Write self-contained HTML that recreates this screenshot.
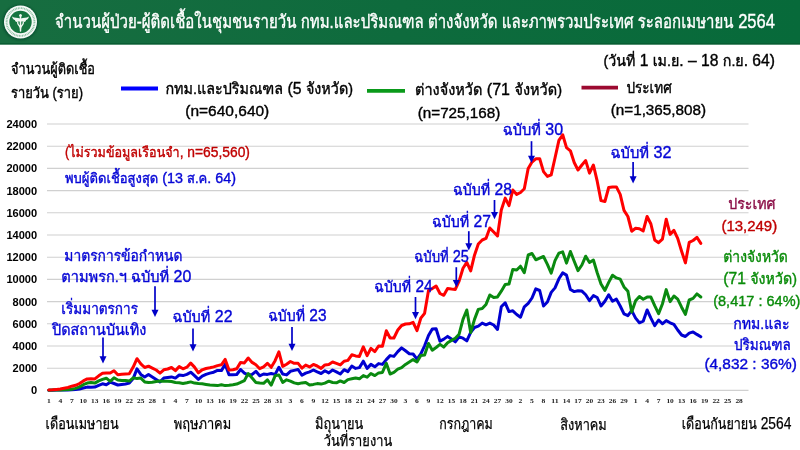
<!DOCTYPE html>
<html lang="th"><head><meta charset="utf-8"><title>จำนวนผู้ป่วย-ผู้ติดเชื้อในชุมชนรายวัน</title>
<style>html,body{margin:0;padding:0;background:#fff;}body{width:800px;height:450px;overflow:hidden;}svg{display:block;}</style>
</head><body>
<svg width="800" height="450" viewBox="0 0 800 450" font-family='"Liberation Sans", "Loma", "Noto Sans Thai Looped", "Noto Sans Thai", sans-serif'>
<rect x="0" y="0" width="800" height="450" fill="#ffffff"/>
<defs><linearGradient id="hg" x1="0" y1="0" x2="1" y2="0"><stop offset="0" stop-color="#176d40"/><stop offset="0.5" stop-color="#0e6b3d"/><stop offset="1" stop-color="#076a3a"/></linearGradient></defs>
<rect x="0" y="0" width="800" height="44.4" fill="url(#hg)"/>
<rect x="0" y="43.2" width="800" height="1.3" fill="#085a31"/>
<defs><filter id="sh" x="-30%" y="-30%" width="160%" height="160%"><feGaussianBlur stdDeviation="0.9"/></filter></defs>
<g id="logo">
<circle cx="20.3" cy="22.5" r="17.6" fill="#06452a" opacity="0.7" filter="url(#sh)"/>
<circle cx="20.5" cy="22" r="16.5" fill="#f6faf7"/>
<circle cx="20.5" cy="22" r="13.9" fill="none" stroke="#86bb9d" stroke-width="1.9" stroke-dasharray="0.9 0.7"/>
<circle cx="20.5" cy="22" r="12.0" fill="#f6faf7"/>
<circle cx="20.5" cy="22" r="11.2" fill="#14753f"/>
<path d="M20.5 15 L20.5 31" stroke="#f1f8f3" stroke-width="1.5" stroke-linecap="round" fill="none"/>
<path d="M20.1 18.4 C17.6 17.2 14.6 18.2 12 16.4 C12.6 18.6 13.6 19.6 15 20 C14.8 20.8 15.6 21.8 17 22 C17.8 21.4 19 21.4 20.1 21.6 Z" fill="#f1f8f3"/>
<path d="M20.9 18.4 C23.4 17.2 26.4 18.2 29 16.4 C28.4 18.6 27.4 19.6 26 20 C26.2 20.8 25.4 21.8 24 22 C23.2 21.4 22 21.4 20.9 21.6 Z" fill="#f1f8f3"/>
<path d="M18 21.6 C16.6 23.6 19 25.4 20.5 27.2 C22 25.4 24.4 23.6 23 21.6" stroke="#f1f8f3" stroke-width="1.3" fill="none"/>
<path d="M19.2 25.6 L20.5 31.4 L21.8 25.6 Z" fill="#f1f8f3"/>
<circle cx="20.5" cy="15.6" r="1.35" fill="#f1f8f3"/>
</g>
<text x="55" y="27.9" font-size="18.6" fill="#ffffff" stroke="#ffffff" stroke-width="0.38" textLength="720" lengthAdjust="spacingAndGlyphs">จำนวนผู้ป่วย-ผู้ติดเชื้อในชุมชนรายวัน กทม.และปริมณฑล ต่างจังหวัด และภาพรวมประเทศ ระลอกเมษายน<tspan font-size="20.5"> 2564</tspan></text>
<text x="603.5" y="66" font-size="15" fill="#000" stroke="#000" stroke-width="0.38" textLength="171.5" lengthAdjust="spacingAndGlyphs">(วันที่<tspan font-size="16.5"> 1 </tspan>เม.ย<tspan font-size="16.5">. – 18 </tspan>ก.ย<tspan font-size="16.5">. 64)</tspan></text>
<text x="11" y="74" font-size="14.5" fill="#000" stroke="#000" stroke-width="0.38" textLength="84" lengthAdjust="spacingAndGlyphs">จำนวนผู้ติดเชื้อ</text>
<text x="11" y="98" font-size="14.5" fill="#000" stroke="#000" stroke-width="0.38" textLength="72" lengthAdjust="spacingAndGlyphs">รายวัน (ราย)</text>
<line x1="47" x2="748.5" y1="390.4" y2="390.4" stroke="#d0d0d0" stroke-width="1.1"/>
<text x="31" y="394.3" font-size="10.8" fill="#000" font-weight="bold" textLength="6.2" lengthAdjust="spacingAndGlyphs">0</text>
<line x1="47" x2="748.5" y1="368.2" y2="368.2" stroke="#d0d0d0" stroke-width="1.1"/>
<text x="12.6" y="372.1" font-size="10.8" fill="#000" font-weight="bold" textLength="24.6" lengthAdjust="spacingAndGlyphs">2000</text>
<line x1="47" x2="748.5" y1="346.0" y2="346.0" stroke="#d0d0d0" stroke-width="1.1"/>
<text x="12.6" y="349.9" font-size="10.8" fill="#000" font-weight="bold" textLength="24.6" lengthAdjust="spacingAndGlyphs">4000</text>
<line x1="47" x2="748.5" y1="323.8" y2="323.8" stroke="#d0d0d0" stroke-width="1.1"/>
<text x="12.6" y="327.7" font-size="10.8" fill="#000" font-weight="bold" textLength="24.6" lengthAdjust="spacingAndGlyphs">6000</text>
<line x1="47" x2="748.5" y1="301.6" y2="301.6" stroke="#d0d0d0" stroke-width="1.1"/>
<text x="12.6" y="305.5" font-size="10.8" fill="#000" font-weight="bold" textLength="24.6" lengthAdjust="spacingAndGlyphs">8000</text>
<line x1="47" x2="748.5" y1="279.4" y2="279.4" stroke="#d0d0d0" stroke-width="1.1"/>
<text x="6.4" y="283.3" font-size="10.8" fill="#000" font-weight="bold" textLength="30.8" lengthAdjust="spacingAndGlyphs">10000</text>
<line x1="47" x2="748.5" y1="257.2" y2="257.2" stroke="#d0d0d0" stroke-width="1.1"/>
<text x="6.4" y="261.1" font-size="10.8" fill="#000" font-weight="bold" textLength="30.8" lengthAdjust="spacingAndGlyphs">12000</text>
<line x1="47" x2="748.5" y1="235.0" y2="235.0" stroke="#d0d0d0" stroke-width="1.1"/>
<text x="6.4" y="238.9" font-size="10.8" fill="#000" font-weight="bold" textLength="30.8" lengthAdjust="spacingAndGlyphs">14000</text>
<line x1="47" x2="748.5" y1="212.8" y2="212.8" stroke="#d0d0d0" stroke-width="1.1"/>
<text x="6.4" y="216.7" font-size="10.8" fill="#000" font-weight="bold" textLength="30.8" lengthAdjust="spacingAndGlyphs">16000</text>
<line x1="47" x2="748.5" y1="190.6" y2="190.6" stroke="#d0d0d0" stroke-width="1.1"/>
<text x="6.4" y="194.5" font-size="10.8" fill="#000" font-weight="bold" textLength="30.8" lengthAdjust="spacingAndGlyphs">18000</text>
<line x1="47" x2="748.5" y1="168.4" y2="168.4" stroke="#d0d0d0" stroke-width="1.1"/>
<text x="6.4" y="172.3" font-size="10.8" fill="#000" font-weight="bold" textLength="30.8" lengthAdjust="spacingAndGlyphs">20000</text>
<line x1="47" x2="748.5" y1="146.2" y2="146.2" stroke="#d0d0d0" stroke-width="1.1"/>
<text x="6.4" y="150.1" font-size="10.8" fill="#000" font-weight="bold" textLength="30.8" lengthAdjust="spacingAndGlyphs">22000</text>
<line x1="47" x2="748.5" y1="124.0" y2="124.0" stroke="#d0d0d0" stroke-width="1.1"/>
<text x="6.4" y="127.9" font-size="10.8" fill="#000" font-weight="bold" textLength="30.8" lengthAdjust="spacingAndGlyphs">24000</text>
<text x="46.9" y="403.2" font-size="6.8" fill="#222" font-weight="bold" font-family='"Liberation Serif", "DejaVu Serif", serif' textLength="3.8" lengthAdjust="spacingAndGlyphs">1</text>
<text x="58.4" y="403.2" font-size="6.8" fill="#222" font-weight="bold" font-family='"Liberation Serif", "DejaVu Serif", serif' textLength="3.8" lengthAdjust="spacingAndGlyphs">4</text>
<text x="69.9" y="403.2" font-size="6.8" fill="#222" font-weight="bold" font-family='"Liberation Serif", "DejaVu Serif", serif' textLength="3.8" lengthAdjust="spacingAndGlyphs">7</text>
<text x="79.6" y="403.2" font-size="6.8" fill="#222" font-weight="bold" font-family='"Liberation Serif", "DejaVu Serif", serif' textLength="7.4" lengthAdjust="spacingAndGlyphs">10</text>
<text x="91.1" y="403.2" font-size="6.8" fill="#222" font-weight="bold" font-family='"Liberation Serif", "DejaVu Serif", serif' textLength="7.4" lengthAdjust="spacingAndGlyphs">13</text>
<text x="102.6" y="403.2" font-size="6.8" fill="#222" font-weight="bold" font-family='"Liberation Serif", "DejaVu Serif", serif' textLength="7.4" lengthAdjust="spacingAndGlyphs">16</text>
<text x="114.1" y="403.2" font-size="6.8" fill="#222" font-weight="bold" font-family='"Liberation Serif", "DejaVu Serif", serif' textLength="7.4" lengthAdjust="spacingAndGlyphs">19</text>
<text x="125.6" y="403.2" font-size="6.8" fill="#222" font-weight="bold" font-family='"Liberation Serif", "DejaVu Serif", serif' textLength="7.4" lengthAdjust="spacingAndGlyphs">22</text>
<text x="137.1" y="403.2" font-size="6.8" fill="#222" font-weight="bold" font-family='"Liberation Serif", "DejaVu Serif", serif' textLength="7.4" lengthAdjust="spacingAndGlyphs">25</text>
<text x="148.6" y="403.2" font-size="6.8" fill="#222" font-weight="bold" font-family='"Liberation Serif", "DejaVu Serif", serif' textLength="7.4" lengthAdjust="spacingAndGlyphs">28</text>
<text x="161.9" y="403.2" font-size="6.8" fill="#222" font-weight="bold" font-family='"Liberation Serif", "DejaVu Serif", serif' textLength="3.8" lengthAdjust="spacingAndGlyphs">1</text>
<text x="173.5" y="403.2" font-size="6.8" fill="#222" font-weight="bold" font-family='"Liberation Serif", "DejaVu Serif", serif' textLength="3.8" lengthAdjust="spacingAndGlyphs">4</text>
<text x="185.0" y="403.2" font-size="6.8" fill="#222" font-weight="bold" font-family='"Liberation Serif", "DejaVu Serif", serif' textLength="3.8" lengthAdjust="spacingAndGlyphs">7</text>
<text x="194.7" y="403.2" font-size="6.8" fill="#222" font-weight="bold" font-family='"Liberation Serif", "DejaVu Serif", serif' textLength="7.4" lengthAdjust="spacingAndGlyphs">10</text>
<text x="206.2" y="403.2" font-size="6.8" fill="#222" font-weight="bold" font-family='"Liberation Serif", "DejaVu Serif", serif' textLength="7.4" lengthAdjust="spacingAndGlyphs">13</text>
<text x="217.7" y="403.2" font-size="6.8" fill="#222" font-weight="bold" font-family='"Liberation Serif", "DejaVu Serif", serif' textLength="7.4" lengthAdjust="spacingAndGlyphs">16</text>
<text x="229.2" y="403.2" font-size="6.8" fill="#222" font-weight="bold" font-family='"Liberation Serif", "DejaVu Serif", serif' textLength="7.4" lengthAdjust="spacingAndGlyphs">19</text>
<text x="240.7" y="403.2" font-size="6.8" fill="#222" font-weight="bold" font-family='"Liberation Serif", "DejaVu Serif", serif' textLength="7.4" lengthAdjust="spacingAndGlyphs">22</text>
<text x="252.2" y="403.2" font-size="6.8" fill="#222" font-weight="bold" font-family='"Liberation Serif", "DejaVu Serif", serif' textLength="7.4" lengthAdjust="spacingAndGlyphs">25</text>
<text x="263.7" y="403.2" font-size="6.8" fill="#222" font-weight="bold" font-family='"Liberation Serif", "DejaVu Serif", serif' textLength="7.4" lengthAdjust="spacingAndGlyphs">28</text>
<text x="275.2" y="403.2" font-size="6.8" fill="#222" font-weight="bold" font-family='"Liberation Serif", "DejaVu Serif", serif' textLength="7.4" lengthAdjust="spacingAndGlyphs">31</text>
<text x="288.5" y="403.2" font-size="6.8" fill="#222" font-weight="bold" font-family='"Liberation Serif", "DejaVu Serif", serif' textLength="3.8" lengthAdjust="spacingAndGlyphs">3</text>
<text x="300.0" y="403.2" font-size="6.8" fill="#222" font-weight="bold" font-family='"Liberation Serif", "DejaVu Serif", serif' textLength="3.8" lengthAdjust="spacingAndGlyphs">6</text>
<text x="311.5" y="403.2" font-size="6.8" fill="#222" font-weight="bold" font-family='"Liberation Serif", "DejaVu Serif", serif' textLength="3.8" lengthAdjust="spacingAndGlyphs">9</text>
<text x="321.2" y="403.2" font-size="6.8" fill="#222" font-weight="bold" font-family='"Liberation Serif", "DejaVu Serif", serif' textLength="7.4" lengthAdjust="spacingAndGlyphs">12</text>
<text x="332.7" y="403.2" font-size="6.8" fill="#222" font-weight="bold" font-family='"Liberation Serif", "DejaVu Serif", serif' textLength="7.4" lengthAdjust="spacingAndGlyphs">15</text>
<text x="344.2" y="403.2" font-size="6.8" fill="#222" font-weight="bold" font-family='"Liberation Serif", "DejaVu Serif", serif' textLength="7.4" lengthAdjust="spacingAndGlyphs">18</text>
<text x="355.7" y="403.2" font-size="6.8" fill="#222" font-weight="bold" font-family='"Liberation Serif", "DejaVu Serif", serif' textLength="7.4" lengthAdjust="spacingAndGlyphs">21</text>
<text x="367.2" y="403.2" font-size="6.8" fill="#222" font-weight="bold" font-family='"Liberation Serif", "DejaVu Serif", serif' textLength="7.4" lengthAdjust="spacingAndGlyphs">24</text>
<text x="378.7" y="403.2" font-size="6.8" fill="#222" font-weight="bold" font-family='"Liberation Serif", "DejaVu Serif", serif' textLength="7.4" lengthAdjust="spacingAndGlyphs">27</text>
<text x="390.2" y="403.2" font-size="6.8" fill="#222" font-weight="bold" font-family='"Liberation Serif", "DejaVu Serif", serif' textLength="7.4" lengthAdjust="spacingAndGlyphs">30</text>
<text x="403.6" y="403.2" font-size="6.8" fill="#222" font-weight="bold" font-family='"Liberation Serif", "DejaVu Serif", serif' textLength="3.8" lengthAdjust="spacingAndGlyphs">3</text>
<text x="415.1" y="403.2" font-size="6.8" fill="#222" font-weight="bold" font-family='"Liberation Serif", "DejaVu Serif", serif' textLength="3.8" lengthAdjust="spacingAndGlyphs">6</text>
<text x="426.6" y="403.2" font-size="6.8" fill="#222" font-weight="bold" font-family='"Liberation Serif", "DejaVu Serif", serif' textLength="3.8" lengthAdjust="spacingAndGlyphs">9</text>
<text x="436.3" y="403.2" font-size="6.8" fill="#222" font-weight="bold" font-family='"Liberation Serif", "DejaVu Serif", serif' textLength="7.4" lengthAdjust="spacingAndGlyphs">12</text>
<text x="447.8" y="403.2" font-size="6.8" fill="#222" font-weight="bold" font-family='"Liberation Serif", "DejaVu Serif", serif' textLength="7.4" lengthAdjust="spacingAndGlyphs">15</text>
<text x="459.3" y="403.2" font-size="6.8" fill="#222" font-weight="bold" font-family='"Liberation Serif", "DejaVu Serif", serif' textLength="7.4" lengthAdjust="spacingAndGlyphs">18</text>
<text x="470.8" y="403.2" font-size="6.8" fill="#222" font-weight="bold" font-family='"Liberation Serif", "DejaVu Serif", serif' textLength="7.4" lengthAdjust="spacingAndGlyphs">21</text>
<text x="482.3" y="403.2" font-size="6.8" fill="#222" font-weight="bold" font-family='"Liberation Serif", "DejaVu Serif", serif' textLength="7.4" lengthAdjust="spacingAndGlyphs">24</text>
<text x="493.8" y="403.2" font-size="6.8" fill="#222" font-weight="bold" font-family='"Liberation Serif", "DejaVu Serif", serif' textLength="7.4" lengthAdjust="spacingAndGlyphs">27</text>
<text x="505.3" y="403.2" font-size="6.8" fill="#222" font-weight="bold" font-family='"Liberation Serif", "DejaVu Serif", serif' textLength="7.4" lengthAdjust="spacingAndGlyphs">30</text>
<text x="518.6" y="403.2" font-size="6.8" fill="#222" font-weight="bold" font-family='"Liberation Serif", "DejaVu Serif", serif' textLength="3.8" lengthAdjust="spacingAndGlyphs">2</text>
<text x="530.1" y="403.2" font-size="6.8" fill="#222" font-weight="bold" font-family='"Liberation Serif", "DejaVu Serif", serif' textLength="3.8" lengthAdjust="spacingAndGlyphs">5</text>
<text x="541.6" y="403.2" font-size="6.8" fill="#222" font-weight="bold" font-family='"Liberation Serif", "DejaVu Serif", serif' textLength="3.8" lengthAdjust="spacingAndGlyphs">8</text>
<text x="551.3" y="403.2" font-size="6.8" fill="#222" font-weight="bold" font-family='"Liberation Serif", "DejaVu Serif", serif' textLength="7.4" lengthAdjust="spacingAndGlyphs">11</text>
<text x="562.8" y="403.2" font-size="6.8" fill="#222" font-weight="bold" font-family='"Liberation Serif", "DejaVu Serif", serif' textLength="7.4" lengthAdjust="spacingAndGlyphs">14</text>
<text x="574.3" y="403.2" font-size="6.8" fill="#222" font-weight="bold" font-family='"Liberation Serif", "DejaVu Serif", serif' textLength="7.4" lengthAdjust="spacingAndGlyphs">17</text>
<text x="585.8" y="403.2" font-size="6.8" fill="#222" font-weight="bold" font-family='"Liberation Serif", "DejaVu Serif", serif' textLength="7.4" lengthAdjust="spacingAndGlyphs">20</text>
<text x="597.3" y="403.2" font-size="6.8" fill="#222" font-weight="bold" font-family='"Liberation Serif", "DejaVu Serif", serif' textLength="7.4" lengthAdjust="spacingAndGlyphs">23</text>
<text x="608.8" y="403.2" font-size="6.8" fill="#222" font-weight="bold" font-family='"Liberation Serif", "DejaVu Serif", serif' textLength="7.4" lengthAdjust="spacingAndGlyphs">26</text>
<text x="620.3" y="403.2" font-size="6.8" fill="#222" font-weight="bold" font-family='"Liberation Serif", "DejaVu Serif", serif' textLength="7.4" lengthAdjust="spacingAndGlyphs">29</text>
<text x="633.7" y="403.2" font-size="6.8" fill="#222" font-weight="bold" font-family='"Liberation Serif", "DejaVu Serif", serif' textLength="3.8" lengthAdjust="spacingAndGlyphs">1</text>
<text x="645.2" y="403.2" font-size="6.8" fill="#222" font-weight="bold" font-family='"Liberation Serif", "DejaVu Serif", serif' textLength="3.8" lengthAdjust="spacingAndGlyphs">4</text>
<text x="656.7" y="403.2" font-size="6.8" fill="#222" font-weight="bold" font-family='"Liberation Serif", "DejaVu Serif", serif' textLength="3.8" lengthAdjust="spacingAndGlyphs">7</text>
<text x="666.4" y="403.2" font-size="6.8" fill="#222" font-weight="bold" font-family='"Liberation Serif", "DejaVu Serif", serif' textLength="7.4" lengthAdjust="spacingAndGlyphs">10</text>
<text x="677.9" y="403.2" font-size="6.8" fill="#222" font-weight="bold" font-family='"Liberation Serif", "DejaVu Serif", serif' textLength="7.4" lengthAdjust="spacingAndGlyphs">13</text>
<text x="689.4" y="403.2" font-size="6.8" fill="#222" font-weight="bold" font-family='"Liberation Serif", "DejaVu Serif", serif' textLength="7.4" lengthAdjust="spacingAndGlyphs">16</text>
<text x="700.9" y="403.2" font-size="6.8" fill="#222" font-weight="bold" font-family='"Liberation Serif", "DejaVu Serif", serif' textLength="7.4" lengthAdjust="spacingAndGlyphs">19</text>
<text x="712.4" y="403.2" font-size="6.8" fill="#222" font-weight="bold" font-family='"Liberation Serif", "DejaVu Serif", serif' textLength="7.4" lengthAdjust="spacingAndGlyphs">22</text>
<text x="723.9" y="403.2" font-size="6.8" fill="#222" font-weight="bold" font-family='"Liberation Serif", "DejaVu Serif", serif' textLength="7.4" lengthAdjust="spacingAndGlyphs">25</text>
<text x="735.4" y="403.2" font-size="6.8" fill="#222" font-weight="bold" font-family='"Liberation Serif", "DejaVu Serif", serif' textLength="7.4" lengthAdjust="spacingAndGlyphs">28</text>
<line x1="121" x2="158" y1="88.5" y2="88.5" stroke="#0000ff" stroke-width="3.8"/>
<text x="165.4" y="93.5" font-size="15.5" fill="#000" stroke="#000" stroke-width="0.38" textLength="187.6" lengthAdjust="spacingAndGlyphs">กทม.และปริมณฑล<tspan font-size="17.1"> (5 </tspan>จังหวัด)</text>
<text x="185.3" y="116.2" font-size="15.3" fill="#000" stroke="#000" stroke-width="0.38" textLength="84" lengthAdjust="spacingAndGlyphs">(n=640,640)</text>
<line x1="367" x2="405" y1="90.8" y2="90.8" stroke="#0a9a1a" stroke-width="3.8"/>
<text x="415" y="94.7" font-size="15.5" fill="#000" stroke="#000" stroke-width="0.38" textLength="147" lengthAdjust="spacingAndGlyphs">ต่างจังหวัด<tspan font-size="17.1"> (71 </tspan>จังหวัด)</text>
<text x="417.7" y="118.2" font-size="15.3" fill="#000" stroke="#000" stroke-width="0.38" textLength="82.6" lengthAdjust="spacingAndGlyphs">(n=725,168)</text>
<line x1="581.5" x2="618" y1="87.7" y2="87.7" stroke="#9c0a30" stroke-width="3.8"/>
<text x="626.4" y="93.3" font-size="15.5" fill="#000" stroke="#000" stroke-width="0.38" textLength="45.4" lengthAdjust="spacingAndGlyphs">ประเทศ</text>
<text x="610.7" y="115.3" font-size="15.3" fill="#000" stroke="#000" stroke-width="0.38" textLength="95.4" lengthAdjust="spacingAndGlyphs">(n=1,365,808)</text>
<polyline points="48.8,390.2 52.6,390.2 56.5,390.1 60.3,390.1 64.1,390.0 68.0,389.9 71.8,389.8 75.6,389.5 79.5,389.0 83.3,388.0 87.2,387.1 91.0,387.3 94.8,387.1 98.7,385.3 102.5,383.8 106.3,384.7 110.2,382.2 114.0,383.5 117.8,385.0 121.7,384.4 125.5,384.0 129.3,383.1 133.2,378.6 137.0,368.9 140.8,374.4 144.7,376.9 148.5,374.4 152.3,376.9 156.2,379.4 160.0,381.9 163.8,378.1 167.7,377.5 171.5,376.9 175.4,378.1 179.2,375.0 183.0,375.6 186.9,374.4 190.7,372.2 194.5,375.6 198.4,379.4 202.2,376.2 206.0,374.4 209.9,373.1 213.7,372.2 217.5,370.4 221.4,370.6 225.2,364.4 229.0,374.8 232.9,374.8 236.7,374.5 240.6,369.5 244.4,373.1 248.2,374.9 252.1,374.4 255.9,371.3 259.7,375.8 263.6,374.0 267.4,374.4 271.2,373.5 275.1,374.4 278.9,367.3 282.7,374.0 286.6,374.9 290.4,371.3 294.2,370.4 298.1,369.5 301.9,375.3 305.7,373.1 309.6,371.8 313.4,370.0 317.2,371.9 321.1,373.5 324.9,370.8 328.8,372.9 332.6,370.0 336.4,371.9 340.3,374.0 344.1,369.7 347.9,371.6 351.8,366.0 355.6,368.4 359.4,367.6 363.3,361.2 367.1,368.4 370.9,364.4 374.8,366.8 378.6,363.6 382.4,364.4 386.3,359.6 390.1,355.6 393.9,356.4 397.8,351.6 401.6,347.9 405.5,350.8 409.3,353.7 413.1,354.0 417.0,359.1 420.8,353.8 424.6,345.8 428.5,335.5 432.3,328.9 436.1,328.7 440.0,341.3 443.8,339.1 447.6,336.4 451.5,339.1 455.3,341.8 459.1,336.9 463.0,338.2 466.8,340.9 470.7,332.4 474.5,327.5 478.3,326.2 482.2,323.1 486.0,324.8 489.8,323.1 493.7,325.0 497.5,329.4 501.3,306.8 505.2,302.8 509.0,311.6 512.8,310.8 516.7,314.5 520.5,317.2 524.3,306.8 528.2,303.3 532.0,298.0 535.8,288.9 539.7,290.5 543.5,306.0 547.4,302.0 551.2,292.4 555.0,287.9 558.9,278.8 562.7,272.9 566.5,275.1 570.4,289.5 574.2,291.6 578.0,290.8 581.9,291.1 585.7,294.8 589.5,300.7 593.4,295.6 597.2,297.5 601.0,306.0 604.9,301.2 608.7,294.8 612.5,301.2 616.4,299.1 620.2,306.0 624.0,313.8 627.9,315.6 631.7,310.6 635.6,318.1 639.4,322.8 643.2,321.2 647.1,310.0 650.9,318.1 654.7,325.6 658.6,320.0 662.4,323.8 666.2,320.6 670.1,322.8 673.9,324.4 677.7,330.0 681.6,335.0 685.4,336.5 689.2,333.1 693.1,331.9 696.9,334.4 700.8,336.8" fill="none" stroke="#0000d0" stroke-width="3.0" stroke-linejoin="round" stroke-linecap="round"/>
<polyline points="48.8,390.2 52.6,390.1 56.5,390.0 60.3,389.9 64.1,389.8 68.0,389.6 71.8,389.3 75.6,388.4 79.5,386.9 83.3,384.7 87.2,383.1 91.0,382.6 94.8,383.1 98.7,380.9 102.5,379.4 106.3,378.2 110.2,381.3 114.0,377.8 117.8,380.0 121.7,380.6 125.5,380.4 129.3,381.1 133.2,377.8 137.0,378.6 140.8,378.1 144.7,381.9 148.5,382.5 152.3,382.2 156.2,381.5 160.0,381.0 163.8,381.2 167.7,381.2 171.5,381.5 175.4,382.5 179.2,382.8 183.0,383.5 186.9,382.8 190.7,381.9 194.5,383.1 198.4,383.5 202.2,383.8 206.0,384.4 209.9,385.0 213.7,385.2 217.5,385.6 221.4,384.8 225.2,385.6 229.0,385.2 232.9,384.7 236.7,384.1 240.6,382.4 244.4,380.6 248.2,373.5 252.1,378.0 255.9,382.4 259.7,382.9 263.6,383.3 267.4,379.8 271.2,385.1 275.1,375.8 278.9,374.9 282.7,382.4 286.6,379.8 290.4,381.1 294.2,382.9 298.1,383.8 301.9,382.9 305.7,382.4 309.6,385.1 313.4,384.4 317.2,383.6 321.1,384.1 324.9,383.1 328.8,381.2 332.6,382.5 336.4,382.8 340.3,380.9 344.1,382.5 347.9,379.6 351.8,378.8 355.6,378.0 359.4,378.8 363.3,375.6 367.1,377.2 370.9,373.5 374.8,375.6 378.6,372.9 382.4,372.4 386.3,363.3 390.1,374.0 393.9,372.4 397.8,369.2 401.6,367.6 405.5,364.4 409.3,362.0 413.1,359.6 417.0,362.0 420.8,355.5 424.6,355.1 428.5,343.5 432.3,350.2 436.1,347.5 440.0,344.4 443.8,347.1 447.6,342.7 451.5,340.4 455.3,338.2 459.1,334.2 463.0,319.4 466.8,310.0 470.7,332.5 474.5,319.4 478.3,309.4 482.2,308.5 486.0,304.4 489.8,295.0 493.7,297.5 497.5,296.9 501.3,291.2 505.2,284.4 509.0,284.0 512.8,269.4 516.7,270.0 520.5,266.2 524.3,272.8 528.2,255.0 532.0,253.5 535.8,259.8 539.7,258.1 543.5,256.5 547.4,264.4 551.2,273.1 555.0,260.6 558.9,253.1 562.7,251.9 566.5,263.1 570.4,251.5 574.2,261.2 578.0,270.6 581.9,265.0 585.7,256.2 589.5,262.5 593.4,260.0 597.2,272.8 601.0,284.0 604.9,290.4 608.7,282.4 612.5,275.2 616.4,277.9 620.2,279.2 624.0,286.9 627.9,291.2 631.7,312.0 635.6,300.8 639.4,296.5 643.2,299.2 647.1,297.1 650.9,297.1 654.7,305.6 658.6,313.6 662.4,304.0 666.2,289.6 670.1,301.6 673.9,296.0 677.7,299.2 681.6,307.2 685.4,314.4 689.2,300.0 693.1,298.4 696.9,293.9 700.8,297.0" fill="none" stroke="#0a8a10" stroke-width="3.0" stroke-linejoin="round" stroke-linecap="round"/>
<polyline points="48.8,390.0 52.6,389.8 56.5,389.4 60.3,389.0 64.1,388.2 68.0,387.5 71.8,386.2 75.6,385.3 79.5,383.5 83.3,380.9 87.2,378.9 91.0,378.8 94.8,378.9 98.7,375.8 102.5,373.3 106.3,372.9 110.2,373.1 114.0,370.7 117.8,374.7 121.7,374.2 125.5,374.0 129.3,373.8 133.2,367.1 137.0,358.7 140.8,363.8 144.7,367.5 148.5,366.2 152.3,368.1 156.2,370.0 160.0,373.1 163.8,369.8 167.7,369.0 171.5,367.5 175.4,370.6 179.2,366.6 183.0,368.8 186.9,367.2 190.7,363.1 194.5,367.1 198.4,372.8 202.2,369.8 206.0,368.5 209.9,367.8 213.7,366.9 217.5,365.6 221.4,364.8 225.2,359.4 229.0,370.0 232.9,369.7 236.7,368.7 240.6,362.4 244.4,362.9 248.2,358.0 252.1,362.4 255.9,364.7 259.7,368.7 263.6,366.9 267.4,363.3 271.2,367.3 275.1,360.7 278.9,351.8 282.7,366.4 286.6,364.2 290.4,361.5 294.2,363.3 298.1,363.3 301.9,368.2 305.7,365.1 309.6,366.9 313.4,364.4 317.2,366.0 321.1,368.4 324.9,364.9 328.8,364.4 332.6,362.0 336.4,363.3 340.3,364.9 344.1,361.2 347.9,360.4 351.8,354.8 355.6,355.9 359.4,356.4 363.3,346.8 367.1,355.6 370.9,348.4 374.8,351.6 378.6,346.0 382.4,346.3 386.3,330.8 390.1,338.0 393.9,338.0 397.8,330.0 401.6,325.5 405.5,324.0 409.3,323.8 413.1,322.4 417.0,330.6 420.8,318.2 424.6,313.3 428.5,290.4 432.3,288.6 436.1,286.0 440.0,293.5 443.8,295.3 447.6,288.6 451.5,289.1 455.3,289.4 459.1,281.1 463.0,268.2 466.8,262.4 470.7,270.9 474.5,255.2 478.3,244.0 482.2,240.0 486.0,238.4 489.8,228.0 493.7,232.0 497.5,236.0 501.3,210.0 505.2,198.1 509.0,205.6 512.8,190.0 516.7,194.4 520.5,192.5 524.3,188.8 528.2,168.4 532.0,162.0 535.8,158.8 539.7,158.8 543.5,171.6 547.4,176.4 551.2,174.8 555.0,158.0 558.9,140.4 562.7,134.8 566.5,147.6 570.4,150.8 574.2,162.5 578.0,170.0 581.9,165.0 585.7,160.6 589.5,173.1 593.4,165.0 597.2,181.2 601.0,200.6 604.9,201.5 608.7,187.5 612.5,186.9 616.4,186.9 620.2,194.4 624.0,210.4 627.9,216.5 631.7,231.2 635.6,228.3 639.4,228.8 643.2,230.9 647.1,216.5 650.9,224.0 654.7,240.0 658.6,242.7 662.4,239.2 666.2,219.2 670.1,234.4 673.9,230.4 677.7,238.4 681.6,251.2 685.4,262.9 689.2,242.4 693.1,240.5 696.9,237.3 700.8,243.4" fill="none" stroke="#ff0000" stroke-width="3.0" stroke-linejoin="round" stroke-linecap="round"/>
<text x="65" y="157" font-size="14" fill="#c00000" stroke="#c00000" stroke-width="0.38" textLength="185" lengthAdjust="spacingAndGlyphs">(ไม่รวมข้อมูลเรือนจำ<tspan font-size="15.4">, n=65,560)</tspan></text>
<text x="65" y="182.5" font-size="14" fill="#0606d6" stroke="#0606d6" stroke-width="0.38" textLength="171" lengthAdjust="spacingAndGlyphs">พบผู้ติดเชื้อสูงสุด<tspan font-size="15.4"> (13 </tspan>ส.ค<tspan font-size="15.4">. 64)</tspan></text>
<text x="64.3" y="261.3" font-size="15.3" fill="#0606d6" stroke="#0606d6" stroke-width="0.38" textLength="118.2" lengthAdjust="spacingAndGlyphs">มาตรการข้อกำหนด</text>
<text x="61.3" y="281.8" font-size="15.3" fill="#0606d6" stroke="#0606d6" stroke-width="0.38" textLength="130" lengthAdjust="spacingAndGlyphs">ตามพรก.ฯ ฉบับที่<tspan font-size="16.8"> 20</tspan></text>
<line x1="155" x2="155" y1="286.3" y2="312.9" stroke="#0000c8" stroke-width="1.7"/>
<path d="M151.5 309.7 L158.5 309.7 L155.0 316.9 Z" fill="#0000c8"/>
<text x="61.3" y="313.6" font-size="15.3" fill="#0606d6" stroke="#0606d6" stroke-width="0.38" textLength="76.7" lengthAdjust="spacingAndGlyphs">เริ่มมาตรการ</text>
<text x="52" y="335.4" font-size="15.3" fill="#0606d6" stroke="#0606d6" stroke-width="0.38" textLength="94.3" lengthAdjust="spacingAndGlyphs">ปิดสถานบันเทิง</text>
<line x1="103" x2="103" y1="337.5" y2="359.4" stroke="#0000c8" stroke-width="1.7"/>
<path d="M99.5 356.2 L106.5 356.2 L103.0 363.4 Z" fill="#0000c8"/>
<text x="172.5" y="322" font-size="15.3" fill="#0606d6" stroke="#0606d6" stroke-width="0.38" textLength="60" lengthAdjust="spacingAndGlyphs">ฉบับที่<tspan font-size="16.8"> 22</tspan></text>
<line x1="193" x2="193" y1="328.5" y2="347.4" stroke="#0000c8" stroke-width="1.7"/>
<path d="M189.5 344.2 L196.5 344.2 L193.0 351.4 Z" fill="#0000c8"/>
<text x="268.2" y="321" font-size="15.3" fill="#0606d6" stroke="#0606d6" stroke-width="0.38" textLength="58.3" lengthAdjust="spacingAndGlyphs">ฉบับที่<tspan font-size="16.8"> 23</tspan></text>
<line x1="292" x2="292" y1="327" y2="346.9" stroke="#0000c8" stroke-width="1.7"/>
<path d="M288.5 343.7 L295.5 343.7 L292.0 350.9 Z" fill="#0000c8"/>
<text x="374.3" y="291.5" font-size="15.3" fill="#0606d6" stroke="#0606d6" stroke-width="0.38" textLength="58.4" lengthAdjust="spacingAndGlyphs">ฉบับที่<tspan font-size="16.8"> 24</tspan></text>
<line x1="415.5" x2="415.5" y1="297" y2="315.3" stroke="#0000c8" stroke-width="1.7"/>
<path d="M412.0 312.1 L419.0 312.1 L415.5 319.3 Z" fill="#0000c8"/>
<text x="414.3" y="261.5" font-size="15" fill="#0606d6" stroke="#0606d6" stroke-width="0.38" textLength="54.6" lengthAdjust="spacingAndGlyphs">ฉบับที่<tspan font-size="16.5"> 25</tspan></text>
<line x1="456.3" x2="456.3" y1="267.2" y2="283.3" stroke="#0000c8" stroke-width="1.7"/>
<path d="M452.8 280.1 L459.8 280.1 L456.3 287.3 Z" fill="#0000c8"/>
<text x="432" y="227" font-size="15.3" fill="#0606d6" stroke="#0606d6" stroke-width="0.38" textLength="59" lengthAdjust="spacingAndGlyphs">ฉบับที่<tspan font-size="16.8"> 27</tspan></text>
<line x1="468.8" x2="468.8" y1="231.2" y2="246.5" stroke="#0000c8" stroke-width="1.7"/>
<path d="M465.3 243.3 L472.3 243.3 L468.8 250.5 Z" fill="#0000c8"/>
<text x="453" y="195" font-size="15.3" fill="#0606d6" stroke="#0606d6" stroke-width="0.38" textLength="59" lengthAdjust="spacingAndGlyphs">ฉบับที่<tspan font-size="16.8"> 28</tspan></text>
<line x1="494.5" x2="494.5" y1="200" y2="215.2" stroke="#0000c8" stroke-width="1.7"/>
<path d="M491.0 212.0 L498.0 212.0 L494.5 219.2 Z" fill="#0000c8"/>
<text x="502.8" y="135.3" font-size="15.3" fill="#0606d6" stroke="#0606d6" stroke-width="0.38" textLength="60.3" lengthAdjust="spacingAndGlyphs">ฉบับที่<tspan font-size="16.8"> 30</tspan></text>
<line x1="531.5" x2="531.5" y1="141.2" y2="158.9" stroke="#0000c8" stroke-width="1.7"/>
<path d="M528.0 155.7 L535.0 155.7 L531.5 162.9 Z" fill="#0000c8"/>
<text x="610.5" y="157.5" font-size="15.3" fill="#0606d6" stroke="#0606d6" stroke-width="0.38" textLength="61" lengthAdjust="spacingAndGlyphs">ฉบับที่<tspan font-size="16.8"> 32</tspan></text>
<line x1="633.1" x2="633.1" y1="162" y2="179.4" stroke="#0000c8" stroke-width="1.7"/>
<path d="M629.6 176.2 L636.6 176.2 L633.1 183.4 Z" fill="#0000c8"/>
<text x="728.3" y="208.6" font-size="15.4" fill="#8c1048" stroke="#8c1048" stroke-width="0.38" textLength="47.2" lengthAdjust="spacingAndGlyphs">ประเทศ</text>
<text x="721.4" y="230.5" font-size="15.5" fill="#c00000" stroke="#c00000" stroke-width="0.38" textLength="55.8" lengthAdjust="spacingAndGlyphs">(13,249)</text>
<text x="723.3" y="262" font-size="15.4" fill="#0a8c0a" stroke="#0a8c0a" stroke-width="0.38" textLength="64.6" lengthAdjust="spacingAndGlyphs">ต่างจังหวัด</text>
<text x="723.3" y="284" font-size="15.4" fill="#0a8c0a" stroke="#0a8c0a" stroke-width="0.38" textLength="73.6" lengthAdjust="spacingAndGlyphs"><tspan font-size="16.9">(71 </tspan>จังหวัด)</text>
<text x="713.2" y="305.6" font-size="15.5" fill="#0a8c0a" stroke="#0a8c0a" stroke-width="0.38" textLength="87.2" lengthAdjust="spacingAndGlyphs">(8,417 : 64%)</text>
<text x="733.2" y="328.6" font-size="15.4" fill="#0606d6" stroke="#0606d6" stroke-width="0.38" textLength="56.3" lengthAdjust="spacingAndGlyphs">กทม.และ</text>
<text x="734" y="350.2" font-size="15.4" fill="#0606d6" stroke="#0606d6" stroke-width="0.38" textLength="56.8" lengthAdjust="spacingAndGlyphs">ปริมณฑล</text>
<text x="704.4" y="369" font-size="15.5" fill="#0606d6" stroke="#0606d6" stroke-width="0.38" textLength="92.5" lengthAdjust="spacingAndGlyphs">(4,832 : 36%)</text>
<text x="45.6" y="428.6" font-size="15.3" fill="#000" stroke="#000" stroke-width="0.25" textLength="73" lengthAdjust="spacingAndGlyphs">เดือนเมษายน</text>
<text x="173.7" y="428.6" font-size="15.3" fill="#000" stroke="#000" stroke-width="0.25" textLength="57.5" lengthAdjust="spacingAndGlyphs">พฤษภาคม</text>
<text x="315" y="428.7" font-size="15.3" fill="#000" stroke="#000" stroke-width="0.25" textLength="48.3" lengthAdjust="spacingAndGlyphs">มิถุนายน</text>
<text x="323.7" y="445.5" font-size="15.3" fill="#000" stroke="#000" stroke-width="0.25" textLength="68.5" lengthAdjust="spacingAndGlyphs">วันที่รายงาน</text>
<text x="439.2" y="428.7" font-size="15.3" fill="#000" stroke="#000" stroke-width="0.25" textLength="53.6" lengthAdjust="spacingAndGlyphs">กรกฎาคม</text>
<text x="560.2" y="430.3" font-size="15.3" fill="#000" stroke="#000" stroke-width="0.25" textLength="46.6" lengthAdjust="spacingAndGlyphs">สิงหาคม</text>
<text x="681.7" y="428.8" font-size="15.3" fill="#000" stroke="#000" stroke-width="0.25" textLength="109.6" lengthAdjust="spacingAndGlyphs">เดือนกันยายน<tspan font-size="16.8"> 2564</tspan></text>
</svg>
</body></html>
